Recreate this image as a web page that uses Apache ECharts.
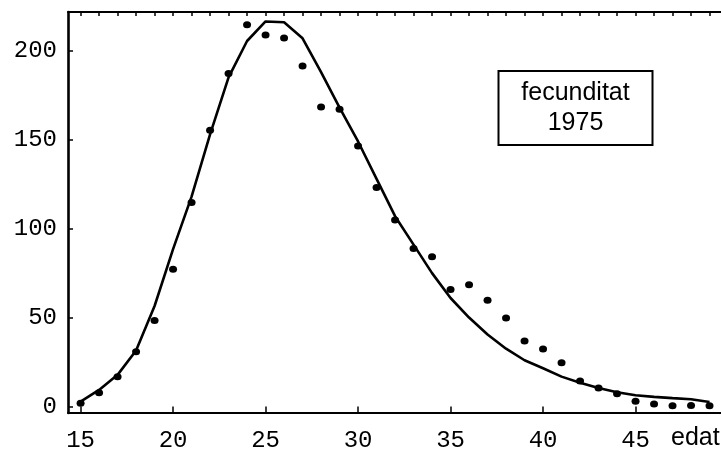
<!DOCTYPE html>
<html>
<head>
<meta charset="utf-8">
<script src="https://cdn.jsdelivr.net/npm/echarts@6/dist/echarts.min.js"></script>
<style>
  html, body { margin: 0; padding: 0; background: #fff; }
  #chart { width: 721px; height: 454px; }
</style>
</head>
<body>
<div id="chart"></div>
<script>
// Age-specific fertility, 1975: observed rates (dots) and fitted curve (line)
const ages = [15, 16, 17, 18, 19, 20, 21, 22, 23, 24, 25, 26, 27, 28, 29, 30, 31, 32,
              33, 34, 35, 36, 37, 38, 39, 40, 41, 42, 43, 44, 45, 46, 47, 48, 49];

const observed = [1.8, 7.8, 16.7, 30.8, 48.4, 77.1, 114.7, 155.3, 187.2, 214.7,
                  208.8, 207.2, 191.5, 168.4, 167.1, 146.5, 123.1, 104.8, 88.9, 84.2,
                  65.8, 68.4, 59.8, 49.7, 36.8, 32.3, 24.6, 14.3, 10.4, 7.2,
                  3.0, 1.4, 0.4, 0.5, 0.4];

const fitted = [2.7, 9.3, 17.8, 31.5, 56.5, 88.5, 118.0, 153.0, 185.0, 205.5,
                216.5, 216.0, 207.0, 188.0, 168.0, 149.0, 128.0, 107.0, 91.0, 75.0,
                61.0, 50.0, 40.5, 32.5, 26.0, 21.5, 16.8, 13.4, 10.4, 8.0,
                6.3, 5.4, 4.7, 4.1, 2.5];

const xTickValues = [15, 20, 25, 30, 35, 40, 45];
const yTickValues = [0, 50, 100, 150, 200];
const xAxisName = 'edat';
const boxLines = ['fecunditat', '1975'];

const xRange = [14.32, 49.62];
const yRange = [-3.65, 221.8];

const ink = '#000';
const monoFont = '"Liberation Mono", "DejaVu Sans Mono", monospace';
const sansFont = '"Liberation Sans", Arial, sans-serif';

const chart = echarts.init(document.getElementById('chart'), null, { renderer: 'canvas' });

const option = {
  animation: false,
  backgroundColor: '#fff',
  grid: { left: 68, right: 0, top: 12, bottom: 41, containLabel: false, outerBoundsMode: 'none' },
  title: {
    text: boxLines.join('\n'),
    left: 575.5 - 23,
    top: 71,
    padding: [7, 23],
    textAlign: 'center',
    borderColor: ink,
    borderWidth: 2,
    textStyle: {
      color: ink,
      fontFamily: sansFont,
      fontSize: 25,
      fontWeight: 'normal',
      lineHeight: 30
    }
  },
  xAxis: [
    {
      type: 'value',
      position: 'bottom',
      min: xRange[0],
      max: xRange[1],
      axisLine: { show: true, onZero: false, lineStyle: { color: ink, width: 2 } },
      axisTick: { show: true, inside: true, length: 4, customValues: xTickValues,
                  lineStyle: { color: ink, width: 1.5 } },
      axisLabel: { show: true, customValues: xTickValues, color: ink, fontFamily: monoFont,
                   fontSize: 24, margin: 16 },
      splitLine: { show: false },
      name: xAxisName,
      nameLocation: 'end',
      nameGap: -50,
      nameMoveOverlap: false,
      nameTextStyle: { color: ink, fontFamily: sansFont, fontSize: 25,
                       verticalAlign: 'top', align: 'left', padding: [13, 0, 0, 0] }
    },
    {
      // top frame with yearly ticks
      type: 'value',
      position: 'top',
      min: xRange[0],
      max: xRange[1],
      axisLine: { show: true, onZero: false, lineStyle: { color: ink, width: 2 } },
      axisTick: { show: true, inside: true, length: 4, customValues: ages,
                  lineStyle: { color: ink, width: 1.5 } },
      axisLabel: { show: false },
      splitLine: { show: false }
    },
    {
      // longer ticks every five years on the top frame
      type: 'value',
      position: 'top',
      min: xRange[0],
      max: xRange[1],
      axisLine: { show: false },
      axisTick: { show: true, inside: true, length: 7, customValues: xTickValues,
                  lineStyle: { color: ink, width: 1.5 } },
      axisLabel: { show: false },
      splitLine: { show: false }
    }
  ],
  yAxis: [
    {
      type: 'value',
      position: 'left',
      min: yRange[0],
      max: yRange[1],
      axisLine: { show: true, onZero: false, lineStyle: { color: ink, width: 2.6 } },
      axisTick: { show: true, inside: true, length: 5, customValues: yTickValues,
                  lineStyle: { color: ink, width: 1.5 } },
      axisLabel: { show: true, customValues: yTickValues, color: ink, fontFamily: monoFont,
                   fontSize: 24, margin: 11 },
      splitLine: { show: false }
    }
  ],
  series: [
    {
      name: 'fitted',
      type: 'line',
      xAxisIndex: 0,
      yAxisIndex: 0,
      data: ages.map((a, i) => [a, fitted[i]]),
      symbol: 'none',
      showSymbol: false,
      smooth: false,
      lineStyle: { color: ink, width: 2.6 },
      z: 2
    },
    {
      name: 'observed',
      type: 'scatter',
      xAxisIndex: 0,
      yAxisIndex: 0,
      data: ages.map((a, i) => [a, observed[i]]),
      symbol: 'circle',
      symbolSize: [8, 7],
      itemStyle: { color: ink, opacity: 1 },
      z: 3
    }
  ]
};

chart.setOption(option);
</script>
</body>
</html>
